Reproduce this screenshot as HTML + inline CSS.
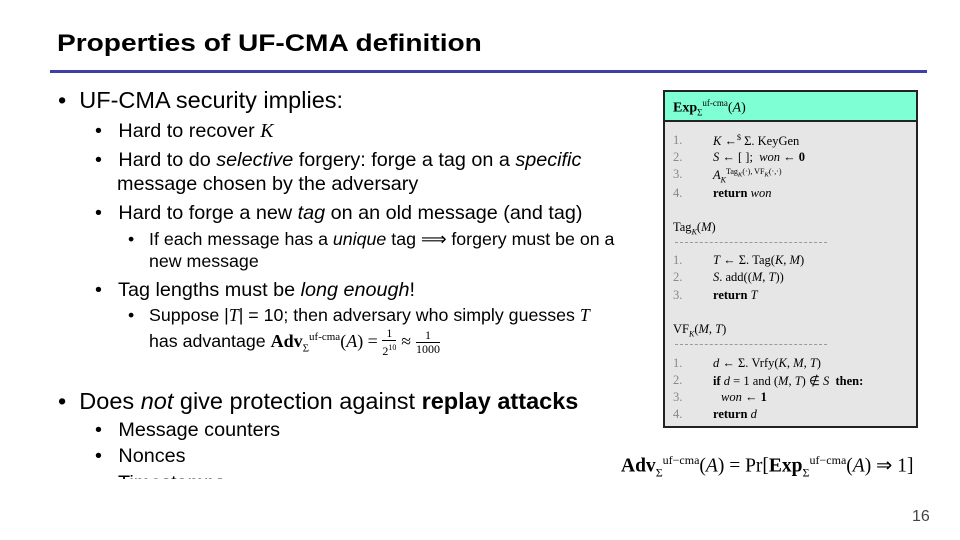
<!DOCTYPE html><html><head><style>
body{margin:0;width:960px;height:540px;background:#fff;position:relative;overflow:hidden;font-family:"Liberation Sans",sans-serif;color:#000}
.a{position:absolute;white-space:nowrap}
.s{font-family:"Liberation Serif",serif}
.l1{font-size:23.5px}.l2{font-size:19.8px}.l3{font-size:17.8px}
.bx{position:absolute;left:663px;top:90px;width:251px;height:334px;border:2px solid #222;background:#e6e6e6}
.hd{position:absolute;left:0;top:0;width:251px;height:28px;background:#7fffd4;border-bottom:2px solid #222}
.c{position:absolute;font-family:"Liberation Serif",serif;font-size:12.5px;white-space:nowrap}
.n{color:#888}
.d{position:absolute;left:10px;width:152px;border-top:1px dashed #999}
.fr{display:inline-block;vertical-align:middle;text-align:center;font-size:12px;font-family:"Liberation Serif",serif;line-height:13px}
</style></head><body>
<div class="a" style="left:57px;top:30px;font-size:24px;font-weight:bold;transform:scaleX(1.17);transform-origin:left">Properties of UF-CMA definition</div>
<div style="position:absolute;left:50px;top:70px;width:877px;height:3px;background:#3f3fa8"></div>

<div class="a l1" style="left:58px;top:87px">•&nbsp; UF-CMA security implies:</div>
<div class="a l2" style="left:95px;top:120px">•&nbsp;&nbsp; Hard to recover <i class="s">K</i></div>
<div class="a l2" style="left:95px;top:149px">•&nbsp;&nbsp; Hard to do <i>selective</i> forgery: forge a tag on a <i>specific</i></div>
<div class="a l2" style="left:117px;top:173px">message chosen by the adversary</div>
<div class="a l2" style="left:95px;top:202px">•&nbsp;&nbsp; Hard to forge a new <i>tag</i> on an old message (and tag)</div>
<div class="a l3" style="left:128px;top:229px">•&nbsp;&nbsp; If each message has a <i>unique</i> tag ⟹ forgery must be on a</div>
<div class="a l3" style="left:149px;top:251px">new message</div>
<div class="a l2" style="left:95px;top:279px">•&nbsp;&nbsp; Tag lengths must be <i>long enough</i>!</div>
<div class="a l3" style="left:128px;top:305px">•&nbsp;&nbsp; Suppose |<i class="s">T</i>| = 10; then adversary who simply guesses <i class="s">T</i></div>
<div class="a l3" style="left:149px;top:327px">has advantage <span class="s" style="font-size:18px"><b>Adv</b><sub style="font-size:11px">Σ</sub><sup style="font-size:11px">uf-cma</sup>(<i>A</i>) = </span><span class="fr">1<br><span style="border-top:1px solid #000;display:block">2<sup style="font-size:8px">10</sup></span></span> <span class="s">≈</span> <span class="fr">1<br><span style="border-top:1px solid #000;display:block">1000</span></span></div>

<div class="a l1" style="left:58px;top:388px">•&nbsp; Does <i>not</i> give protection against <b>replay attacks</b></div>
<div class="a l2" style="left:95px;top:419px">•&nbsp;&nbsp; Message counters</div>
<div class="a l2" style="left:95px;top:445px">•&nbsp;&nbsp; Nonces</div>
<div style="position:absolute;left:95px;top:470px;width:200px;height:9px;overflow:hidden"><div class="a l2" style="left:0;top:2px">•&nbsp;&nbsp; Timestamps</div></div>

<div class="bx"><div class="hd"><div class="c" style="left:8px;top:6px;font-size:14px"><b>Exp</b><sub style="font-size:9px">Σ</sub><sup style="font-size:9px">uf-cma</sup>(<i>A</i>)</div></div>
<div class="c" style="left:8px;top:41px"><span class="n">1.</span></div><div class="c" style="left:48px;top:41px"><i>K</i> ←<sup style="font-size:8px">$</sup> Σ. KeyGen</div>
<div class="c" style="left:8px;top:58px"><span class="n">2.</span></div><div class="c" style="left:48px;top:58px"><i>S</i> ← [ ];&nbsp; <i>won</i> ← <b>0</b></div>
<div class="c" style="left:8px;top:75px"><span class="n">3.</span></div><div class="c" style="left:48px;top:75px"><i>A</i><sub style="font-size:8px"><i>K</i></sub><sup style="font-size:8px">Tag<sub><i>K</i></sub>(·), VF<sub><i>K</i></sub>(·,·)</sup></div>
<div class="c" style="left:8px;top:94px"><span class="n">4.</span></div><div class="c" style="left:48px;top:94px"><b>return</b> <i>won</i></div>
<div class="c" style="left:8px;top:128px">Tag<sub style="font-size:8px"><i>K</i></sub>(<i>M</i>)</div>
<div class="d" style="top:150px"></div>
<div class="c" style="left:8px;top:161px"><span class="n">1.</span></div><div class="c" style="left:48px;top:161px"><i>T</i> ← Σ. Tag(<i>K</i>, <i>M</i>)</div>
<div class="c" style="left:8px;top:178px"><span class="n">2.</span></div><div class="c" style="left:48px;top:178px"><i>S</i>. add((<i>M</i>, <i>T</i>))</div>
<div class="c" style="left:8px;top:196px"><span class="n">3.</span></div><div class="c" style="left:48px;top:196px"><b>return</b> <i>T</i></div>
<div class="c" style="left:8px;top:230px">VF<sub style="font-size:8px"><i>K</i></sub>(<i>M</i>, <i>T</i>)</div>
<div class="d" style="top:252px"></div>
<div class="c" style="left:8px;top:264px"><span class="n">1.</span></div><div class="c" style="left:48px;top:264px"><i>d</i> ← Σ. Vrfy(<i>K</i>, <i>M</i>, <i>T</i>)</div>
<div class="c" style="left:8px;top:281px"><span class="n">2.</span></div><div class="c" style="left:48px;top:281px"><b>if</b> <i>d</i> = 1 and (<i>M</i>, <i>T</i>) ∉ <i>S</i>&nbsp; <b>then:</b></div>
<div class="c" style="left:8px;top:298px"><span class="n">3.</span></div><div class="c" style="left:56px;top:298px"><i>won</i> ← <b>1</b></div>
<div class="c" style="left:8px;top:315px"><span class="n">4.</span></div><div class="c" style="left:48px;top:315px"><b>return</b> <i>d</i></div>
</div>

<div class="a s" style="left:621px;top:453px;font-size:19.5px"><b>Adv</b><sub style="font-size:12px">Σ</sub><sup style="font-size:12px">uf−cma</sup>(<i>A</i>) = Pr[<b>Exp</b><sub style="font-size:12px">Σ</sub><sup style="font-size:12px">uf−cma</sup>(<i>A</i>) ⇒ 1]</div>
<div class="a" style="left:912px;top:508px;font-size:16px;color:#444">16</div>
</body></html>
